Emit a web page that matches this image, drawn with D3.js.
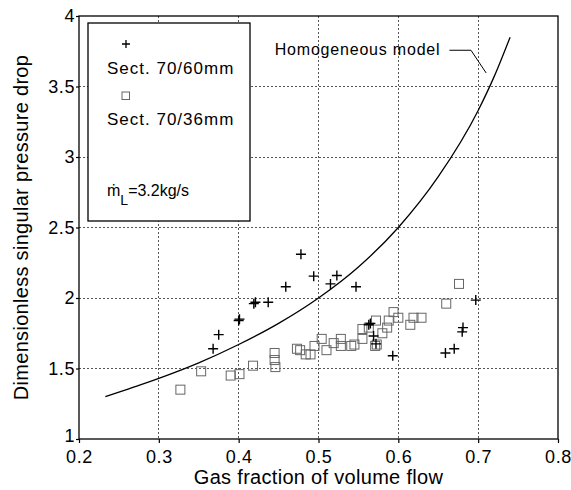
<!DOCTYPE html>
<html>
<head>
<meta charset="utf-8">
<script src="https://cdn.jsdelivr.net/npm/d3@7"></script>
<style>
  body { margin: 0; background: #fff; }
  svg { font-family: "Liberation Sans", Arial, Helvetica, sans-serif; }
  .grid line { stroke: #555; stroke-width: 1; stroke-dasharray: 2,2; shape-rendering: crispEdges; }
  .axis text { font-size: 18px; fill: #000; letter-spacing: 0.6px; }
  .axis line { stroke: #000; stroke-width: 1.2; }
</style>
</head>
<body>
<svg id="chart"></svg>
<script>
// tick values
var xTicks = [0.2, 0.3, 0.4, 0.5, 0.6, 0.7, 0.8];
var yTicks = [1, 1.5, 2, 2.5, 3, 3.5, 4];

// Sect. 70/60mm  (+)
var sect60X = [0.368, 0.375, 0.400, 0.401, 0.419, 0.421, 0.437, 0.459, 0.478, 0.494, 0.515, 0.523,
               0.547, 0.563, 0.565, 0.569, 0.572, 0.593, 0.659, 0.670, 0.680, 0.681, 0.697];
var sect60Y = [1.64, 1.74, 1.84, 1.85, 1.96, 1.97, 1.97, 2.08, 2.31, 2.155, 2.10, 2.16,
               2.08, 1.81, 1.82, 1.73, 1.675, 1.59, 1.61, 1.64, 1.76, 1.79, 1.985];

// Sect. 70/36mm  (squares)
var sect36X = [0.327, 0.353, 0.390, 0.401, 0.418, 0.445, 0.445, 0.446, 0.473, 0.477, 0.484, 0.490,
               0.495, 0.504, 0.510, 0.519, 0.528, 0.528, 0.541, 0.545, 0.555, 0.555, 0.563, 0.572,
               0.571, 0.573, 0.580, 0.586, 0.588, 0.594, 0.600, 0.615, 0.619, 0.629, 0.660, 0.676];
var sect36Y = [1.35, 1.48, 1.45, 1.46, 1.52, 1.61, 1.56, 1.51, 1.64, 1.63, 1.60, 1.60,
               1.66, 1.71, 1.63, 1.68, 1.71, 1.66, 1.66, 1.67, 1.71, 1.78, 1.79, 1.84,
               1.66, 1.67, 1.75, 1.79, 1.84, 1.90, 1.86, 1.81, 1.86, 1.86, 1.96, 2.10];

// Homogeneous model curve
var modelX = [0.233, 0.25, 0.275, 0.30, 0.35, 0.40, 0.45, 0.50, 0.55, 0.60, 0.65, 0.70, 0.72, 0.74];
var modelY = [1.30, 1.333, 1.38, 1.43, 1.54, 1.67, 1.82, 2.00, 2.22, 2.50, 2.86, 3.33, 3.57, 3.85];

// label leader line (data coords)
var leaderX = [0.664, 0.691, 0.710];
var leaderY = [3.757, 3.757, 3.596];

drawChart();

function drawChart() {
    var margin = { top: 16, right: 13, bottom: 51, left: 79 },
        width = 571 - margin.left - margin.right,
        height = 490 - margin.top - margin.bottom;

    var x = d3.scaleLinear().domain([0.2, 0.8]).range([0, width]);
    var y = d3.scaleLinear().domain([1, 4]).range([height, 0]);

    var svg = d3.select("#chart")
        .attr("width", 571)
        .attr("height", 490)
        .append("g")
        .attr("transform", "translate(" + margin.left + "," + margin.top + ")");

    // grid
    var grid = svg.append("g").attr("class", "grid");
    grid.selectAll(".gx")
        .data(xTicks.slice(1, -1))
        .enter().append("line")
        .attr("x1", function(d) { return x(d); })
        .attr("x2", function(d) { return x(d); })
        .attr("y1", 0)
        .attr("y2", height);
    grid.selectAll(".gy")
        .data(yTicks.slice(1, -1))
        .enter().append("line")
        .attr("x1", 0)
        .attr("x2", width)
        .attr("y1", function(d) { return y(d); })
        .attr("y2", function(d) { return y(d); });

    // axes
    var xAxis = d3.axisBottom(x).tickValues(xTicks).tickSizeInner(4).tickSizeOuter(0).tickPadding(7)
        .tickFormat(function(d) { return d; });
    var yAxis = d3.axisLeft(y).tickValues(yTicks).tickSizeInner(3).tickSizeOuter(0).tickPadding(1)
        .tickFormat(function(d) { return d; });

    svg.append("g")
        .attr("class", "x axis")
        .attr("transform", "translate(0," + height + ")")
        .call(xAxis)
        .call(function(g) { g.select(".domain").remove(); });

    svg.append("g")
        .attr("class", "y axis")
        .call(yAxis)
        .call(function(g) { g.select(".domain").remove(); })
        .selectAll(".tick text")
        .filter(function(d) { return d === 1; })
        .attr("dy", "0.12em");

    // frame
    svg.append("rect")
        .attr("width", width)
        .attr("height", height)
        .attr("fill", "none")
        .attr("stroke", "#000")
        .attr("stroke-width", 1.3);

    // model curve
    var line = d3.line()
        .x(function(d, i) { return x(modelX[i]); })
        .y(function(d, i) { return y(modelY[i]); })
        .curve(d3.curveMonotoneX);
    svg.append("path")
        .datum(modelX)
        .attr("d", line)
        .attr("fill", "none")
        .attr("stroke", "#000")
        .attr("stroke-width", 1.3);

    // leader + label
    svg.append("path")
        .datum(leaderX)
        .attr("d", d3.line()
            .x(function(d, i) { return x(leaderX[i]); })
            .y(function(d, i) { return y(leaderY[i]); }))
        .attr("fill", "none")
        .attr("stroke", "#000")
        .attr("stroke-width", 1);
    svg.append("text")
        .attr("x", x(leaderX[0]) - 9)
        .attr("y", y(leaderY[0]) + 5)
        .attr("text-anchor", "end")
        .attr("font-size", 16)
        .attr("letter-spacing", 0.8)
        .text("Homogeneous model");

    // squares
    svg.selectAll(".sq")
        .data(sect36X)
        .enter().append("rect")
        .attr("class", "sq")
        .attr("x", function(d) { return x(d) - 4.5; })
        .attr("y", function(d, i) { return y(sect36Y[i]) - 4.5; })
        .attr("width", 9)
        .attr("height", 9)
        .attr("fill", "none")
        .attr("stroke", "#666")
        .attr("stroke-width", 1);

    // pluses
    svg.selectAll(".pl")
        .data(sect60X)
        .enter().append("path")
        .attr("class", "pl")
        .attr("d", "M-5,0H5M0,-5V5")
        .attr("transform", function(d, i) { return "translate(" + x(d) + "," + y(sect60Y[i]) + ")"; })
        .attr("stroke", "#000")
        .attr("stroke-width", 1.4);

    // legend
    var lg = d3.select("#chart").append("g");
    lg.append("rect")
        .attr("x", 88).attr("y", 23)
        .attr("width", 162).attr("height", 198)
        .attr("fill", "#fff")
        .attr("stroke", "#000")
        .attr("stroke-width", 1.3);
    lg.append("path")
        .attr("d", "M-4,0H4M0,-4V4")
        .attr("transform", "translate(126,44)")
        .attr("stroke", "#000")
        .attr("stroke-width", 1.3);
    lg.append("text").attr("x", 107).attr("y", 74)
        .attr("font-size", 17).attr("letter-spacing", 1)
        .text("Sect. 70/60mm");
    lg.append("rect")
        .attr("x", 122).attr("y", 92)
        .attr("width", 7.5).attr("height", 7.5)
        .attr("fill", "none")
        .attr("stroke", "#666");
    lg.append("text").attr("x", 107).attr("y", 125)
        .attr("font-size", 17).attr("letter-spacing", 1)
        .text("Sect. 70/36mm");
    var mt = lg.append("text").attr("x", 107).attr("y", 196).attr("font-size", 16);
    mt.append("tspan").text("ṁ");
    mt.append("tspan").attr("font-size", 14).attr("dy", 9).text("L");
    mt.append("tspan").attr("dy", -9).text("=3.2kg/s");

    // axis titles
    d3.select("#chart").append("text")
        .attr("x", margin.left + width / 2)
        .attr("y", 484)
        .attr("text-anchor", "middle")
        .attr("font-size", 20)
        .attr("letter-spacing", 0.3)
        .text("Gas fraction of volume flow");
    d3.select("#chart").append("text")
        .attr("transform", "translate(28," + (margin.top + height / 2) + ") rotate(-90)")
        .attr("text-anchor", "middle")
        .attr("font-size", 20)
        .attr("letter-spacing", 0.3)
        .text("Dimensionless singular pressure drop");
}
</script>
</body>
</html>
